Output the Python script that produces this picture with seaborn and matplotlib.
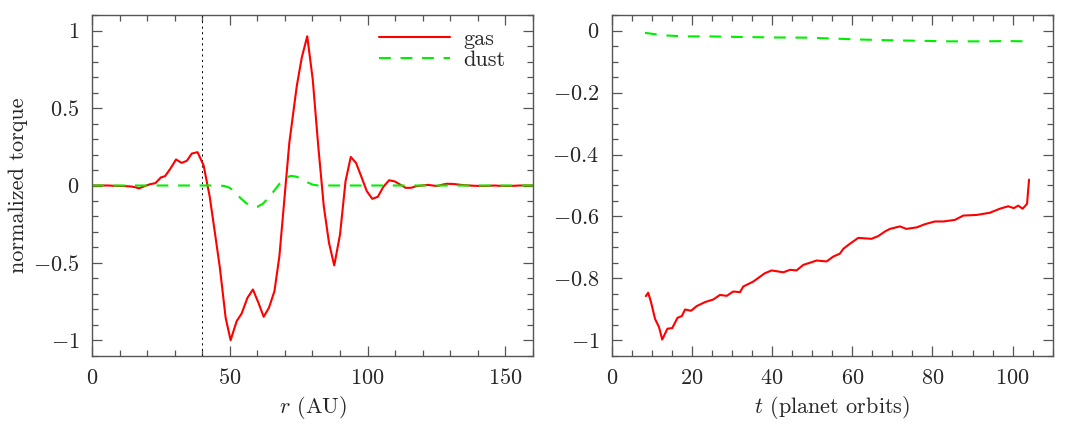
import matplotlib
matplotlib.use("Agg")
import matplotlib.pyplot as plt
import matplotlib.ticker as mticker
import pandas as pd
import seaborn as sns

# torque profile vs radius (left panel)
r_gas = [0, 2, 4, 6, 8, 10, 12, 14, 16, 17, 19, 21, 23, 25, 26.5, 28.5, 30.5, 32.5,
         34.4, 36.2, 38.3, 40.5, 42.7, 44.6, 46.4, 48.5, 50.3, 52.5, 54.3, 56.4, 58.4,
         60.4, 62.3, 64.2, 66.2, 68.0, 69.8, 71.6, 74.3, 76.1, 78.1, 80.1, 82.1, 84.1,
         86.0, 87.9, 90.0, 92.0, 93.9, 95.8, 97.9, 99.7, 101.7, 103.7, 105.7, 107.8,
         109.9, 111.8, 113.8, 115.7, 117.8, 119.8, 121.8, 123.7, 125.3, 127, 128.7, 131,
         133, 135, 137, 139, 142, 144, 146, 148, 151, 153, 155, 158, 160]
torque_gas = [0.0, 0.0, 0.0, 0.0, -0.002, -0.003, -0.004, -0.006, -0.012, -0.019, -0.005,
              0.008, 0.015, 0.052, 0.060, 0.11, 0.168, 0.146, 0.159, 0.206, 0.215, 0.13,
              -0.07, -0.305, -0.53, -0.854, -0.998, -0.875, -0.826, -0.725, -0.671, -0.757,
              -0.847, -0.789, -0.682, -0.456, -0.09, 0.275, 0.641, 0.824, 0.963, 0.684,
              0.254, -0.133, -0.37, -0.516, -0.316, 0.028, 0.184, 0.146, 0.049, -0.036,
              -0.086, -0.073, -0.009, 0.034, 0.026, 0.006, -0.015, -0.015, -0.004, 0.0,
              0.004, 0.0, -0.004, 0.005, 0.011, 0.010, 0.006, 0.002, 0.0, -0.002, -0.003,
              -0.002, 0.0, -0.002, -0.003, -0.002, 0.0, 0.0, 0.0]
r_dust = [0, 10, 20, 30, 40, 46, 48, 50, 52, 54, 56, 58, 60, 62, 64, 66, 68, 70, 72, 74,
          76, 78, 80, 82, 90, 100, 110, 120, 130, 140, 150, 160]
torque_dust = [0, 0, 0, 0, 0, 0, -0.003, -0.015, -0.045, -0.083, -0.115, -0.133, -0.137,
               -0.118, -0.08, -0.036, 0.01, 0.045, 0.062, 0.058, 0.043, 0.022, 0.006, 0,
               0, 0, 0, 0, 0, 0, 0, 0]
r_planet = 40

# total torque vs time (right panel)
t_gas = [8.5, 9.1, 9.8, 10.8, 11.8, 12.6, 13.9, 15.1, 16.4, 17.5, 18.3, 19.8, 21.2,
         23.3, 25.3, 27.0, 28.7, 30.3, 32.0, 32.8, 35.3, 38.2, 39.9, 42.8, 44.5, 46.1,
         47.8, 49.5, 51.1, 53.6, 55.3, 56.9, 57.8, 59.4, 61.5, 64.8, 66.5, 68.2, 69.4,
         71.9, 73.5, 76.1, 78.1, 80.6, 82.7, 85.6, 87.7, 91.0, 94.3, 96.8, 98.9, 100.3,
         101.4, 102.5, 103.6, 104.1]
torque_t_gas = [-0.857, -0.846, -0.876, -0.930, -0.957, -0.997, -0.962, -0.960, -0.927,
                -0.921, -0.900, -0.904, -0.889, -0.876, -0.868, -0.853, -0.856, -0.842,
                -0.844, -0.826, -0.810, -0.783, -0.774, -0.780, -0.772, -0.774, -0.756,
                -0.749, -0.742, -0.745, -0.729, -0.720, -0.704, -0.688, -0.669, -0.672,
                -0.663, -0.648, -0.640, -0.632, -0.640, -0.635, -0.625, -0.616, -0.616,
                -0.611, -0.597, -0.595, -0.588, -0.575, -0.567, -0.573, -0.565, -0.575,
                -0.559, -0.481]
t_dust = [8.3, 10.8, 13.7, 17.9, 24.5, 32.8, 41.1, 48.6, 55.3, 61.9, 67.7, 76.0, 84.4,
          92.7, 98.5, 103.9]
torque_t_dust = [-0.0075, -0.012, -0.016, -0.019, -0.019, -0.021, -0.0225, -0.023,
                 -0.026, -0.029, -0.031, -0.033, -0.035, -0.035, -0.034, -0.035]

sns.set_style("ticks")
plt.rcParams['font.family'] = ['cmr10', 'DejaVu Serif']
plt.rcParams['mathtext.fontset'] = 'cm'
plt.rcParams['axes.unicode_minus'] = False
plt.rcParams['lines.scale_dashes'] = False

RED = '#ff0000'
GREEN = '#00ee00'
FRAME = '#555555'
FS = 16

df_r_gas = pd.DataFrame({'r': r_gas, 'torque': torque_gas})
df_r_dust = pd.DataFrame({'r': r_dust, 'torque': torque_dust})
df_t_gas = pd.DataFrame({'t': t_gas, 'torque': torque_t_gas})
df_t_dust = pd.DataFrame({'t': t_dust, 'torque': torque_t_dust})

fig = plt.figure(figsize=(10.67, 4.24), dpi=100)
ax1 = fig.add_axes([0.0862, 0.1604, 0.4133, 0.8042])
ax2 = fig.add_axes([0.5733, 0.1604, 0.4133, 0.8042])

fmt = mticker.FuncFormatter(lambda v, p: '$%g$' % round(v, 3))


def style_axis(ax):
    for s in ax.spines.values():
        s.set_color(FRAME)
        s.set_linewidth(1.0)
    ax.tick_params(which='both', direction='in', top=True, right=True,
                   color=FRAME, labelsize=FS, pad=9, width=0.9)
    ax.tick_params(which='major', length=7)
    ax.tick_params(which='minor', length=4.3)
    ax.xaxis.set_major_formatter(fmt)
    ax.yaxis.set_major_formatter(fmt)


# left panel
ax1.axvline(r_planet, color='black', lw=0.7, ls=(0, (1.5, 2.5)))
sns.lineplot(data=df_r_gas, x='r', y='torque', ax=ax1, color=RED, lw=1.5,
             sort=False, estimator=None, label='gas')
sns.lineplot(data=df_r_dust, x='r', y='torque', ax=ax1, color=GREEN, lw=1.5,
             sort=False, estimator=None, label='dust', dashes=False)
ax1.lines[-1].set_linestyle((0, (8.5, 7)))
ax1.set_xlim(0, 160)
ax1.set_ylim(-1.1, 1.1)
ax1.xaxis.set_major_locator(mticker.MultipleLocator(50))
ax1.xaxis.set_minor_locator(mticker.MultipleLocator(10))
ax1.yaxis.set_major_locator(mticker.MultipleLocator(0.5))
ax1.yaxis.set_minor_locator(mticker.MultipleLocator(0.1))
ax1.set_xlabel('$r$ (AU)', fontsize=FS, labelpad=4)
ax1.set_ylabel('normalized torque', fontsize=FS)
ax1.yaxis.set_label_coords(-0.145, 0.5)
style_axis(ax1)
ax1.legend(loc='upper left', bbox_to_anchor=(0.651, 0.957), frameon=False,
           fontsize=FS, handlelength=3.2, handletextpad=0.6, borderpad=0,
           borderaxespad=0, labelspacing=0.05)

# right panel
sns.lineplot(data=df_t_gas, x='t', y='torque', ax=ax2, color=RED, lw=1.5,
             sort=False, estimator=None)
sns.lineplot(data=df_t_dust, x='t', y='torque', ax=ax2, color=GREEN, lw=1.5,
             sort=False, estimator=None)
ax2.lines[-1].set_linestyle((0, (8.5, 7)))
ax2.set_xlim(0, 110)
ax2.set_ylim(-1.05, 0.05)
ax2.xaxis.set_major_locator(mticker.MultipleLocator(20))
ax2.xaxis.set_minor_locator(mticker.MultipleLocator(5))
ax2.yaxis.set_major_locator(mticker.MultipleLocator(0.2))
ax2.yaxis.set_minor_locator(mticker.MultipleLocator(0.05))
ax2.set_xlabel('$t$ (planet orbits)', fontsize=FS, labelpad=4)
ax2.set_ylabel('')
style_axis(ax2)

fig.savefig('out.png', dpi=100)
